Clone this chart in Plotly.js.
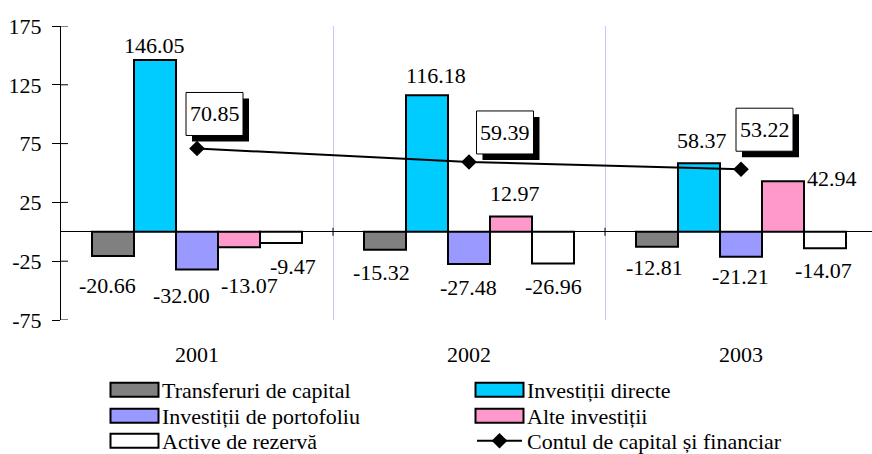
<!DOCTYPE html>
<html>
<head>
<meta charset="utf-8">
<script src="https://cdn.plot.ly/plotly-3.0.1.min.js"></script>
<style>
html,body{margin:0;padding:0;overflow:hidden;background:#fff;}
#chart{width:877px;height:454px;}
</style>
</head>
<body>
<div id="chart"></div>
<script>
// ---- data ----
const years = ["2001", "2002", "2003"];
const transferuri = [-20.66, -15.32, -12.81];
const directe = [146.05, 116.18, 58.37];
const portofoliu = [-32.00, -27.48, -21.21];
const alte = [-13.07, 12.97, 42.94];
const rezerva = [-9.47, -26.96, -14.07];
const contul = [70.85, 59.39, 53.22];
const seriesNames = ["Transferuri de capital", "Investiții directe", "Investiții de portofoliu", "Alte investiții", "Active de rezervă"];
const lineName = "Contul de capital și financiar";
const yTicks = [-75, -25, 25, 75, 125, 175];

// ---- style ----
const FONT = "Liberation Serif";
const colors = ["#808080", "#00ccff", "#9999ff", "#ff99cc", "#ffffff"];
const BARGAP = 0.228;
const barSeries = [transferuri, directe, portofoliu, alte, rezerva];
const legendRow = ["legend", "legend", "legend2", "legend2", "legend3", "legend3"];
// label nudges in px: [dx, distance from bar end]
const labelNudge = [
  [[-6, 29], [-4, 23], [-3, 21]],
  [[-1, 15], [9, 20], [3, 23]],
  [[-16, 26], [-1, 23], [-1, 20]],
  [[10, 38], [4, 23], [49, 3]],
  [[12, 24], [1, 23], [-1, 22]]
];
// line label box centers relative to marker (px): [dx, up]
const boxNudge = [[17.5, 34.5], [36, 29.5], [23.5, 39.5]];

const traces = barSeries.map((vals, i) => ({
  type: "bar",
  name: seriesNames[i],
  legend: legendRow[i],
  x: years,
  y: vals,
  marker: {color: colors[i], line: {color: "#000", width: 2}},
  hoverinfo: "skip"
}));
traces.push({
  type: "scatter",
  mode: "lines+markers",
  name: lineName,
  legend: legendRow[5],
  x: years,
  y: contul,
  line: {color: "#000", width: 2},
  marker: {symbol: "diamond", size: 12, color: "#000"},
  hoverinfo: "skip"
});

const annotations = [];
const shapes = [];
const barW = (1 - BARGAP) / barSeries.length;
barSeries.forEach((vals, i) => {
  vals.forEach((v, k) => {
    const nd = labelNudge[i][k];
    annotations.push({
      x: k + (i - (barSeries.length - 1) / 2) * barW,
      y: v, xref: "x", yref: "y",
      text: v.toFixed(2),
      showarrow: false,
      xanchor: "center", yanchor: "middle",
      xshift: nd[0],
      yshift: v >= 0 ? nd[1] : -nd[1],
      font: {family: FONT, size: 22, color: "#000"}
    });
  });
});
contul.forEach((v, k) => {
  const [dx, up] = boxNudge[k];
  const hw = 28.5, hh = 21.5, sh = 6;
  shapes.push({
    type: "rect", xref: "x", yref: "y", xsizemode: "pixel", ysizemode: "pixel",
    xanchor: k, yanchor: v,
    x0: dx - hw + sh, x1: dx + hw + sh, y0: up - hh - sh, y1: up + hh - sh,
    fillcolor: "#000", line: {width: 0}, layer: "above"
  });
  shapes.push({
    type: "rect", xref: "x", yref: "y", xsizemode: "pixel", ysizemode: "pixel",
    xanchor: k, yanchor: v,
    x0: dx - hw, x1: dx + hw, y0: up - hh, y1: up + hh,
    fillcolor: "#fff", line: {color: "#000", width: 1}, layer: "above"
  });
  annotations.push({
    x: k, y: v, xref: "x", yref: "y",
    text: v.toFixed(2), showarrow: false,
    xanchor: "center", yanchor: "middle",
    xshift: dx, yshift: up,
    font: {family: FONT, size: 22, color: "#000"}
  });
});
// y-axis ticks cross the axis line: inner half of each tick
yTicks.forEach(t => {
  shapes.push({
    type: "line", xref: "paper", xsizemode: "pixel", xanchor: 0, x0: 0, x1: 7,
    yref: "y", y0: t, y1: t, line: {color: "#000", width: 1}, layer: "above"
  });
});
// category-boundary ticks crossing the zero line
years.slice(0, -1).forEach((_, k) => {
  shapes.push({
    type: "line", xref: "x", x0: k + 0.5, x1: k + 0.5,
    yref: "y", ysizemode: "pixel", yanchor: 0, y0: -4, y1: 4,
    line: {color: "#000", width: 1}, layer: "above"
  });
});

function legendAt(topPx) {
  return {
    orientation: "h",
    xref: "container", yref: "container",
    x: 107 / 877, xanchor: "left",
    y: 1 - topPx / 454, yanchor: "top",
    entrywidth: 305, entrywidthmode: "pixels",
    font: {family: FONT, size: 22, color: "#000"},
    itemwidth: 45,
    tracegroupgap: 0,
    bgcolor: "rgba(0,0,0,0)"
  };
}

const layout = {
  width: 877, height: 454,
  margin: {l: 61, r: 0, t: 26, b: 134, pad: 0, autoexpand: false},
  paper_bgcolor: "#fff", plot_bgcolor: "#fff",
  font: {family: FONT, size: 22, color: "#000"},
  barmode: "group",
  bargap: BARGAP,
  bargroupgap: 0,
  showlegend: true,
  legend: legendAt(369),
  legend2: legendAt(395),
  legend3: legendAt(420),
  xaxis: {
    type: "category",
    tickson: "boundaries",
    showgrid: true, gridcolor: "#c8c8f8", gridwidth: 1,
    ticks: "", showline: false, zeroline: false,
    ticklabelstandoff: 19,
    tickfont: {family: FONT, size: 22, color: "#000"},
    range: [-0.5, 2.5],
    fixedrange: true
  },
  yaxis: {
    range: [-75, 175],
    tickvals: yTicks,
    ticktext: yTicks.map(String),
    ticks: "outside", ticklen: 8, tickcolor: "#000", tickwidth: 1,
    showline: true, linecolor: "#000", linewidth: 1,
    showgrid: false,
    zeroline: true, zerolinecolor: "#000", zerolinewidth: 1,
    ticklabelstandoff: 6,
    tickfont: {family: FONT, size: 22, color: "#000"},
    fixedrange: true
  },
  annotations: annotations,
  shapes: shapes
};

Plotly.newPlot("chart", traces, layout, {displayModeBar: false, staticPlot: true}).then(function (gd) {
  // widen the legend swatches to match the reference
  gd.querySelectorAll(".legendpoints path").forEach(function (p) {
    if (p.getAttribute("d") === "M6,6H-6V-6H6Z") {
      p.setAttribute("d", "M-24,7H24V-7H-24Z");
    }
  });
});
</script>
</body>
</html>
